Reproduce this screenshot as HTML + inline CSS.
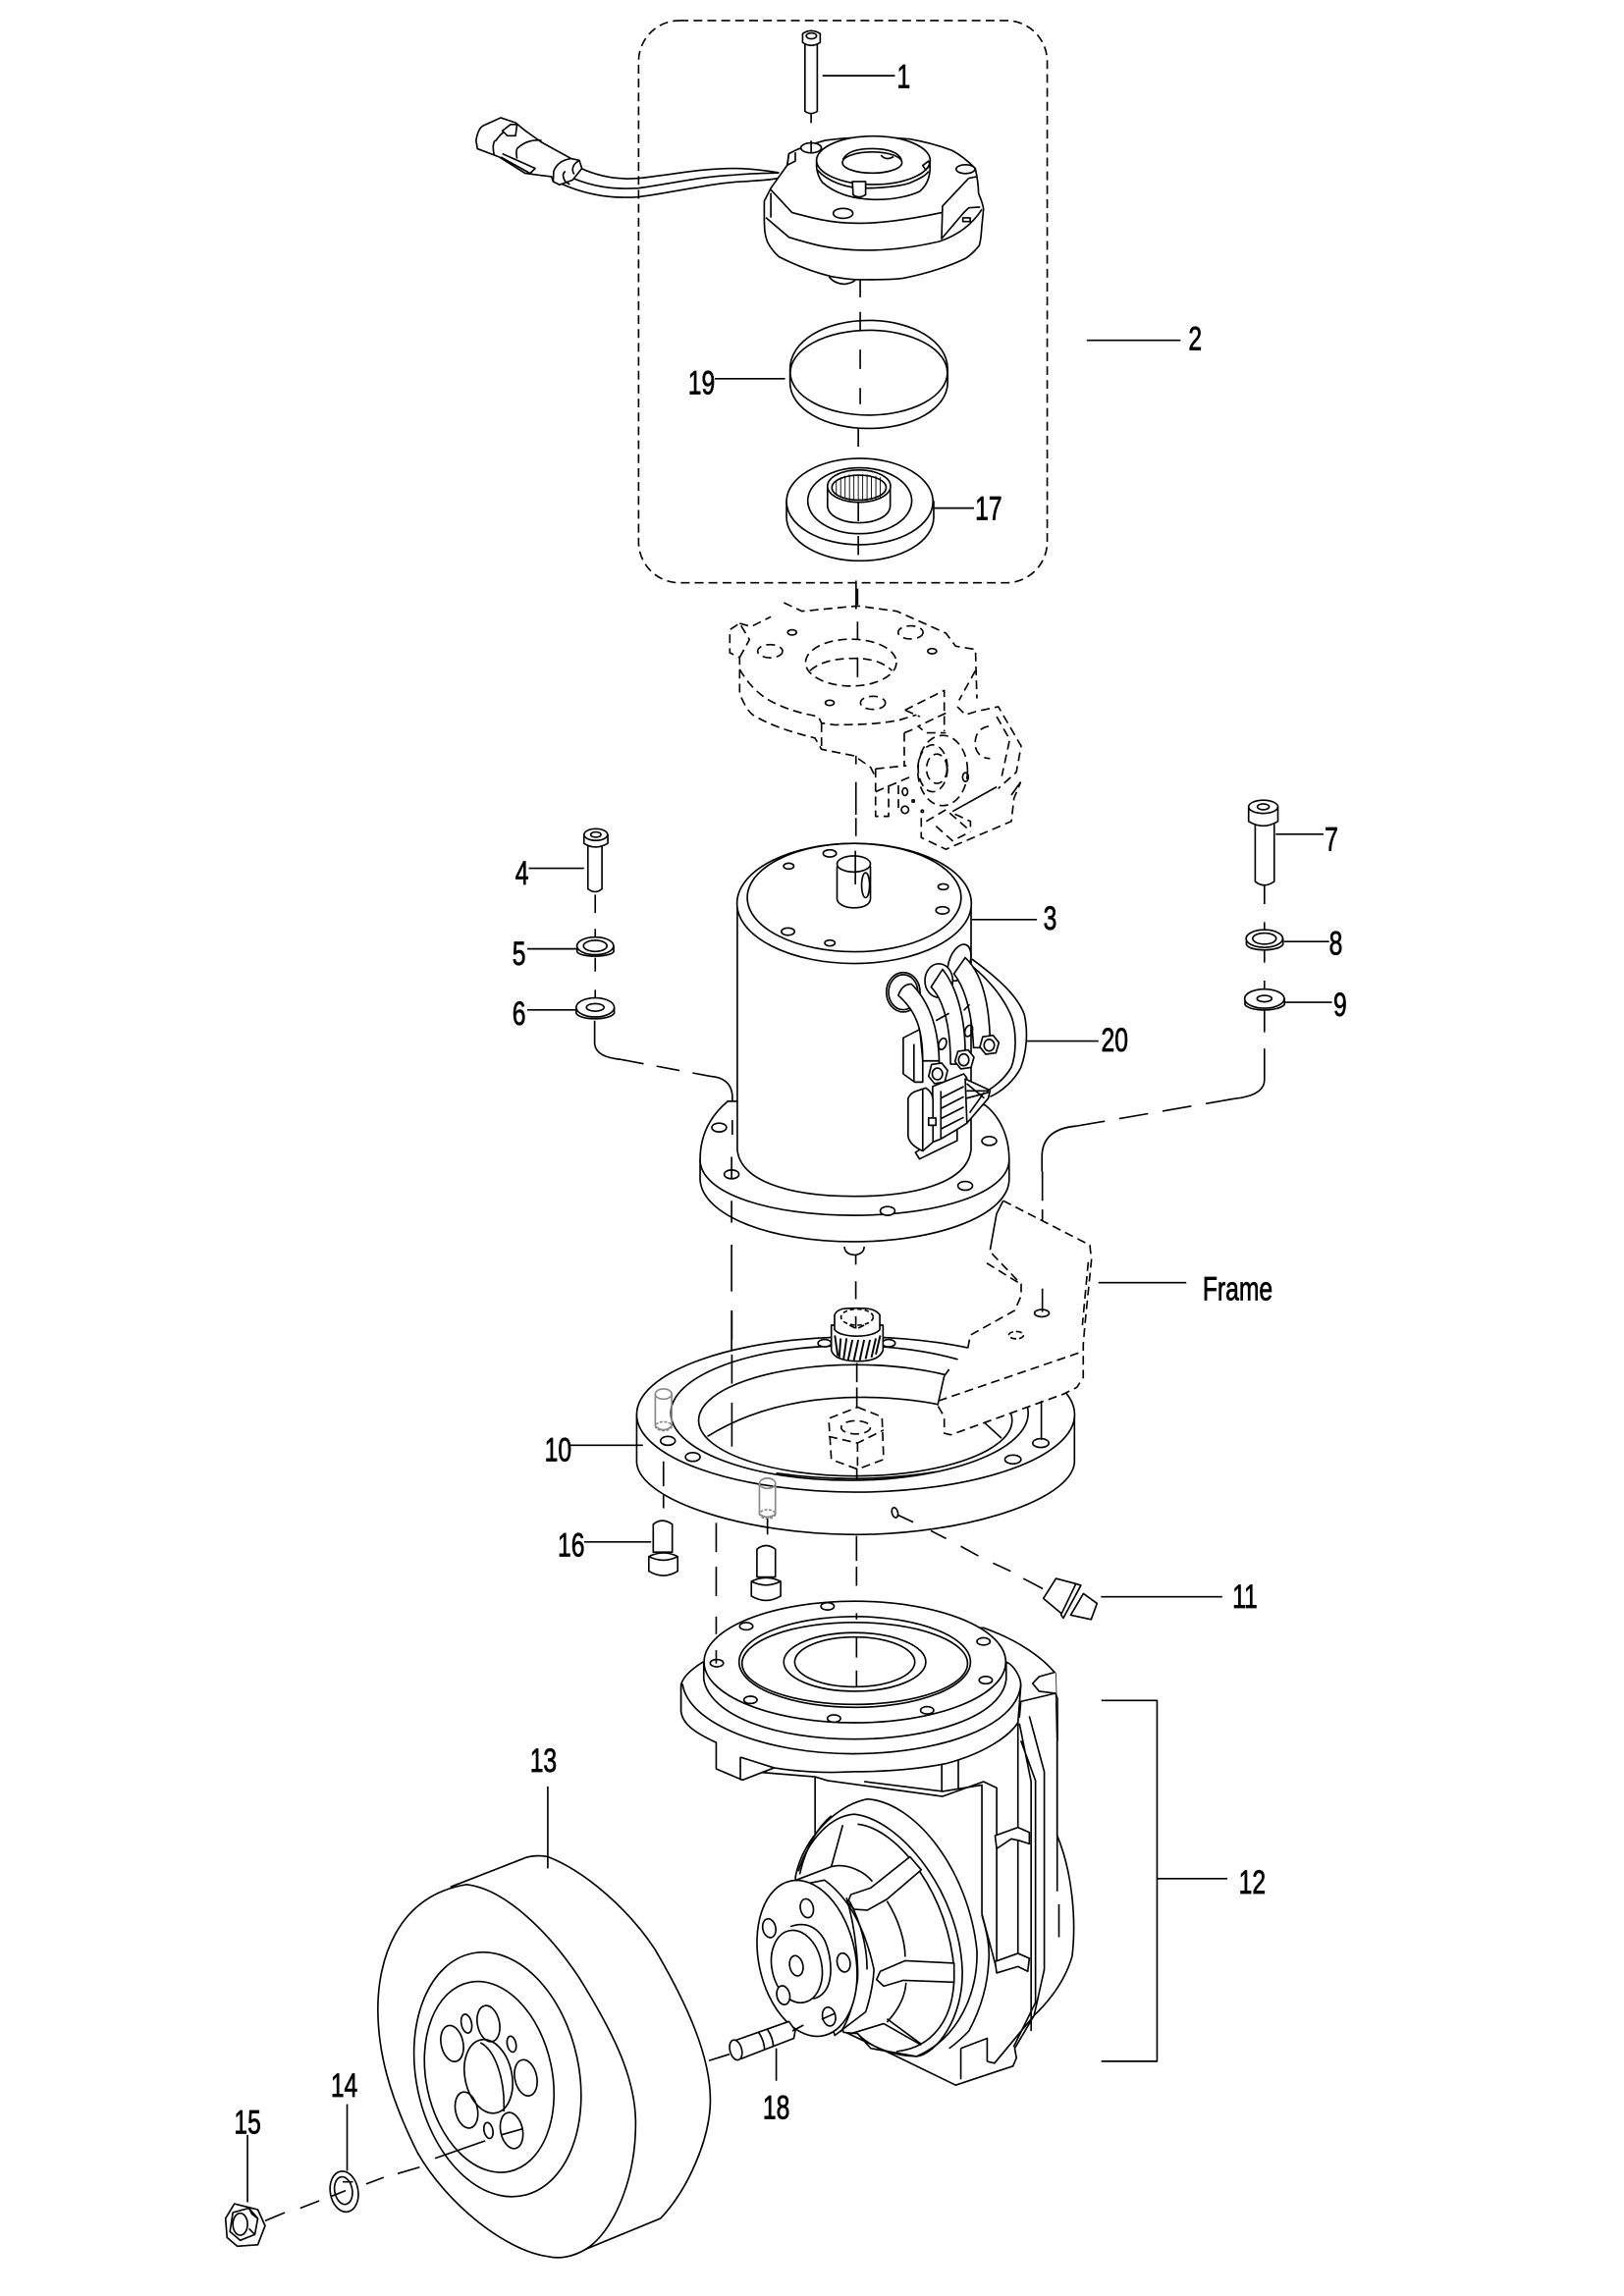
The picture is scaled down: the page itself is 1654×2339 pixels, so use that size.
<!DOCTYPE html>
<html lang="en">
<head>
<meta charset="utf-8">
<title>Drive unit exploded view</title>
<style>
html,body{margin:0;padding:0;background:#fff}
svg{display:block}
.a *,.a{fill:none;stroke:#000;stroke-width:1.1;stroke-linejoin:round;stroke-linecap:butt}
.w{fill:#fff!important}
.d{stroke-dasharray:6 3.5}
.c{stroke-dasharray:16 9}
.g{stroke:#888!important}
.t{font-family:"Liberation Sans",sans-serif;font-size:23px;fill:#000;stroke:#000;stroke-width:.5;text-anchor:middle}
</style>
</head>
<body>
<svg width="1654" height="2339" viewBox="0 0 1108.8 1568" xmlns="http://www.w3.org/2000/svg">
<rect width="1108.8" height="1568" fill="#fff"/>
<g class="a">

<!-- dashed box -->
<rect x="436" y="14" width="279" height="384" rx="28" stroke-dasharray="6 3.5"/>

<!-- part 1 bolt -->
<path d="M549.6,29V76Q553.7,79 558,76V29"/>
<path class="w" d="M548,23Q553.7,19 560,23V29Q553.7,33 548,29Z"/>
<ellipse cx="554" cy="24.5" rx="3.5" ry="2"/>
<path d="M553.8,78V84"/>

<!-- wires -->
<path d="M396.7,115C409,120.6 422.4,122.9 435.8,121.7C458,119.5 478.2,115 500.6,115C516.2,115 531.9,118 531.9,118"/>
<path d="M391,121.7C404.5,127.3 417.9,129.6 435.8,128.5C458,125.5 478.2,120.6 500.6,119.5C511.8,118.4 522.9,118.4 531.9,118"/>
<path d="M383.3,125.5C400,133 417.9,135.8 435.8,134.5C460.4,131.4 485,125 507.3,124C516,123.3 527.4,122.9 530.7,121.7"/>
<!-- plug -->
<path class="w" d="M325,96C326,90 328,87 329.6,86L341.9,80.4L352,83.8L358.7,89.3L369.8,97.2L390,108.3L395.5,109.5L397.3,115L391,122.9L382,126.2L377.7,124L376.5,120.6L367.6,119.5L358.7,118.4L340.8,107.2L326,101.6Z"/>
<path d="M337.4,106C336,100 337,96 338.6,96C342,91 345,89 349,87M353,108.3C352,103 353,101 354.2,100.5C358,97 364,95 369.8,96"/>
<path class="w" d="M343,89.3L348.6,85H353L352,92.7H346.4Z"/>
<path d="M341.9,107.2L362,118.4L365.4,115L343,105"/>
<path d="M390,108.3C384,109 380,112 378,117L377.7,124M386,117Q383,119 386,124L389,126"/>
<path d="M395,110C391,112 390,116 392,119"/>

<!-- brake body -->
<path class="w" d="M537.5,112.8L526.3,128.5L521.8,137.4V150C522,157 522,160 524,165.3C526,169 528,172 531.9,175.4C545,182 556,186 567.6,188.8C575,190 580,191 587.7,191C600,191 608,191 616.7,190C632,187 648,182 659.2,176.5C663,174 666,171 668.6,167.6C670,163 670,158 670.4,154L671.5,143C671,138 669,135 668.1,131.8C668,125 667,120 665.9,115C661,110 656,106 650.2,102.8C640,99 630,96.5 621.2,95C607,93.5 590,93.5 578.7,94.3C573,94.8 568,95.2 563,96C556,98 549,100 543,102.7L538.6,105Z"/>
<path d="M526.3,129.6L540.8,145.2C555,149 568,152.4 583.3,152.4C603,153 625,149 642.9,145.2"/>
<path d="M526.3,131.8V148.6"/>
<path d="M522.9,148.6L538.6,162C555,167 568,170.9 592,170.9C610,170.9 628,168 641.3,164.9C650,162 662,156 670.4,143"/>
<path d="M661.4,121.7L643.5,140.7L642.9,163L658,145.2L661.4,141.9L669.2,141.4M661.4,121.7L667,120.6"/>
<rect x="657.4" y="148.8" width="5" height="2.5"/>
<path d="M538.6,105L537.5,112.8L543,110L543,104"/>
<path class="w" d="M557.5,109.5V114Q558,120 561.6,124.7C570,132 582,136.3 598.8,136.3C610,136.3 621,134 627.9,130.7Q635,125 635,114V109.5"/>
<path d="M558,116C565,124 578,128.5 590,128.5C603,128.5 615,127 621,125C628,122 632,120 634,117"/>
<ellipse class="w" cx="596.3" cy="109.5" rx="38.8" ry="16.5"/>
<ellipse cx="595.5" cy="111" rx="20.3" ry="7.2"/>
<path d="M575.5,109C578,103.5 586,101.5 595.5,101.5C605,101.5 613,103.5 615.5,109"/>
<path d="M601.5,106Q605,110 610,107"/>
<path class="w" d="M582,124H591V133Q586,136 582.5,133Z"/>
<path d="M630,113L634,110L635,113L632,116Z"/>
<ellipse class="w" cx="659.2" cy="115.5" rx="6.4" ry="3"/>
<ellipse class="w" cx="575.6" cy="145.7" rx="6.7" ry="3.4"/>
<ellipse class="w" cx="553.8" cy="101" rx="7" ry="3.4"/>
<path d="M553.8,96V104M566,189Q570,194 577,194Q583,193 584,191"/>

<!-- ring 19 -->
<path class="w" d="M539.4,252C539.4,233 563,218.8 593.2,218.8C623,218.8 647,233 647,252V261.3C647,279 623,292.6 593.2,292.6C563,292.6 539.4,279 539.4,261.3Z"/>
<ellipse cx="593.2" cy="254.5" rx="53.6" ry="29"/>
<path d="M587.3,191V203M587.3,213V226M587.3,238.7V252M587.3,265V276M586,292V305"/>

<!-- disc 17 -->
<path class="w" d="M537,342V353C537,370 560,383 587,383C615,383 637.5,370 637.5,353V342"/>
<ellipse class="w" cx="587" cy="342.5" rx="50" ry="29.5"/>
<ellipse cx="587" cy="342" rx="35.5" ry="22.5"/>
<path class="w" d="M565,332V346C566,353 576,357 586.5,357C597,357 607,353 607.8,346V332Z"/>
<ellipse class="w" cx="586.5" cy="332" rx="21.5" ry="11"/>
<ellipse cx="586.5" cy="333" rx="18.5" ry="8.5"/>
<path style="stroke-width:.6" d="M571,328V338M574,326V340M577,325V341M580,324V342M583,324V342M586,324V342M589,324V342M592,324V342M595,325V341M598,325V341M601,326V340"/>
<path d="M586,343V356M586,366V379M584.5,396.5V416"/>

<!-- pump / steering dashed part -->
<g class="d">
<path d="M505,449L511.7,436.8L505,425.7L498.3,430V445.8L505,449V473.7C508,481 511,486 514,488.2C525,495 540,500 556.4,504L560.9,511.7L583.3,516.2L594.4,524L597.8,530.7"/>
<path d="M505,425.7L512.9,427.9L526.3,421.2M535.2,411.6L547.5,417.4L585.5,413.8L612.3,417.4L645.8,432.4L652.5,441.3L666,443.5L667,477"/>
<path d="M505,457C510,466 516,472 523,477C535,484 546,487 558.7,489.3L560.9,493.8L569.8,495C590,495 603,494 614.5,491.6L625.7,488.2"/>
<path d="M560.9,494V511"/>
<ellipse cx="581" cy="452.5" rx="31" ry="16"/>
<path d="M553,458C560,452 570,449.6 583,449.6C594,449.6 603,452 609,458"/>
<ellipse cx="621.7" cy="431.9" rx="8.5" ry="4.5"/>
<ellipse cx="525.8" cy="444.7" rx="8.5" ry="4.5"/>
<ellipse cx="596" cy="480" rx="8.5" ry="4.5"/>
<path d="M617.9,484.9L644.7,471.5V499.4M645.8,487L626.8,496L632.4,500.5H645.8M617.9,484.9L628,489.4M617.4,500.5V522.9M617.4,500.5L626,497"/>
<path d="M666,458L654.8,478.2M653.6,482.6L659.2,488.2L666,486L681.6,482.6L697.2,509.5L693.9,527.3L681.6,538.5M680.5,489.4L689.4,505L684,530"/>
<path d="M675,496C668,497 665,503 666,510C667,515 671,518 676,518"/>
<ellipse cx="643.6" cy="526.2" rx="17" ry="24"/>
<ellipse cx="636.9" cy="524.7" rx="10" ry="16"/>
<ellipse cx="639.6" cy="525" rx="7" ry="10"/>
<path d="M629,558.6V572L645.8,580L690.5,560.9L692.3,545.2L696.9,534"/>
<path d="M632.4,560.9L645.8,553L662.6,567.6M652,556L662.6,560.9V567.6M639.1,564.2L650.3,574.2L662.6,568"/>
<path d="M597.8,525L619,522.9M597.8,525V557.5H606.7V536.3M597.8,540.7L621.2,530.7M613.4,536.3V554.2"/>
</g>
<ellipse cx="540.8" cy="431.9" rx="3" ry="1.8"/>
<ellipse cx="636.4" cy="444.7" rx="3" ry="1.8"/>
<ellipse cx="566.5" cy="480" rx="3" ry="1.8"/>
<ellipse cx="617.9" cy="540.7" rx="1.8" ry="2.6"/>
<ellipse cx="617.9" cy="553" rx="2.5" ry="2.5"/>
<ellipse cx="659.2" cy="530.7" rx="2" ry="3"/>
<circle cx="623.5" cy="547" r=".8"/>
<circle cx="629.7" cy="554" r=".8"/>
<path d="M680.5,537.4L650.3,554.2M690.5,543L696.9,534"/>
<path d="M585.5,402V413M585.5,424.5V437M585.5,449V462.5M584.4,516V522M584.4,534V556.4M584.4,558.6V571"/>

<!-- bolts 4,5,6 -->
<path d="M401.4,577V607Q406.4,611 411,607V577"/>
<path class="w" d="M398.7,570V576Q406.4,581 415,576V570Z"/>
<ellipse class="w" cx="406.8" cy="570" rx="8" ry="4"/>
<ellipse cx="406.8" cy="570" rx="3.5" ry="1.8"/>
<path d="M406.4,611V623.5M406.4,634.3V640.5M406.4,654V663.5M406.4,676V683.5"/>
<path class="w" d="M394,646V650C396,654 416,654 419,650V646Z"/>
<ellipse class="w" cx="406.4" cy="646" rx="12.5" ry="6"/>
<ellipse cx="406.4" cy="646" rx="8" ry="3.8"/>
<path class="w" d="M393.4,688V692C396,697 416,697 419.4,692V688Z"/>
<ellipse class="w" cx="406.4" cy="688" rx="13" ry="6.5"/>
<ellipse cx="406.4" cy="688" rx="6" ry="2.6"/>
<path d="M406,697V713Q407,722 423.7,723.5" />
<path style="stroke-dasharray:16 9" d="M423.7,723.5L485,735"/>
<path d="M485,735Q499,736 500,748V765"/>

<!-- bolts 7,8,9 -->
<path d="M857,561V602Q863,607 870,602V561"/>
<path class="w" d="M852.5,551V561Q862.5,567 872.5,561V551Z"/>
<ellipse class="w" cx="862.5" cy="551" rx="10" ry="4.5"/>
<ellipse cx="862.5" cy="551" rx="4" ry="2"/>
<path d="M863.3,605V617.4M863.3,629.7V636M863.3,648V657.4M863.3,669.7V677.4M863.3,690V705"/>
<path class="w" d="M851,641V645C853,650 873,650 876,645V641Z"/>
<ellipse class="w" cx="863.3" cy="641" rx="12.5" ry="6"/>
<ellipse cx="863.3" cy="641" rx="8" ry="3.8"/>
<path class="w" d="M850,682V686C853,691 873,691 877,686V682Z"/>
<ellipse class="w" cx="863.3" cy="682" rx="13.5" ry="6.5"/>
<ellipse cx="863.3" cy="682" rx="5" ry="2.2"/>
<path d="M863.3,716V737.4Q863.3,748 843,750.3"/>
<path style="stroke-dasharray:20 10" d="M843,750.3L735,769"/>
<path d="M735,769Q711.4,771 711.4,790V800"/>
<path style="stroke-dasharray:20 6" d="M711.7,800V895"/>

<!-- motor flange -->
<path class="w" d="M478,792V806C480,830 525,848 583,848C640,848 688,830 689,806V792C689,775 682,762 672.5,754.6L497,752C485,762 478,775 478,792Z"/>
<path d="M478,792C478,815 525,830 583,830C640,830 689,815 689,792"/>
<path class="w" d="M503.4,617V785C505,805 535,817 583,817C632,817 661,805 663,785V617Z"/>
<ellipse class="w" cx="583.2" cy="617" rx="80" ry="41"/>
<ellipse cx="583.2" cy="613" rx="73" ry="37"/>
<ellipse class="w" cx="491" cy="770" rx="5" ry="3"/>
<ellipse class="w" cx="499.5" cy="802" rx="5" ry="3"/>
<ellipse class="w" cx="606" cy="827" rx="5" ry="3"/>
<ellipse class="w" cx="659" cy="809.8" rx="5" ry="3"/>
<ellipse class="w" cx="675.4" cy="779.2" rx="5" ry="3"/>
<path d="M500,765V775M499.5,790V805M499.5,820V835M499.5,850V882M499.5,895V930"/>
<path d="M576.5,851.4Q577,857 584.3,857Q590,856 590,851.4"/>

<!-- top face detail -->
<path class="w" d="M571.5,592V614C572,618 578,620 583,620C589,620 594,618 594.3,614V592Z"/>
<ellipse class="w" cx="582.9" cy="590" rx="11.4" ry="5.5"/>
<ellipse cx="591" cy="604.5" rx="2.7" ry="8.5"/>
<ellipse cx="566.5" cy="582.8" rx="4.5" ry="2.5"/>
<ellipse cx="538.5" cy="591.5" rx="3.5" ry="2"/>
<ellipse cx="538" cy="636.2" rx="4.5" ry="2.5"/>
<ellipse cx="566.6" cy="644" rx="3.5" ry="2"/>
<ellipse cx="643.5" cy="621.7" rx="4.5" ry="2.5"/>
<ellipse cx="644" cy="605.6" rx="3.5" ry="2"/>
<path d="M584,581V604"/>

<!-- cables on motor -->
<path d="M663.6,655C680,667 695,680 699.4,693C702,705 701,718 697,729C693,737 685,745 676,749"/>
<path d="M663.6,659.7C675,669 686,682 691,695.4C694,705 694,720 690.4,729C687,735 682,740 674.8,744.6"/>
<path class="w" d="M616.7,708.8L628,703L630,724V739L624.5,739L616.7,733.4Z"/>
<path d="M624,713V739"/>
<ellipse class="w" cx="655" cy="657.4" rx="7" ry="13" transform="rotate(20 655 657.4)"/>
<ellipse class="w" cx="641" cy="669.7" rx="9.5" ry="11.5"/>
<ellipse class="w" cx="616.7" cy="677.6" rx="11.5" ry="13.5"/>
<ellipse cx="616.7" cy="677.6" rx="10" ry="12"/>
<path class="w" d="M651.3,665C659,675 663.6,691 664.7,715.5H676C676,690 672,666 659,654Z"/>
<path class="w" d="M635.7,674C645,684 649,702 649,726.7H659V719C659,693 652.4,673 643.5,662Z"/>
<path class="w" d="M613.3,679.8C625,690 630,702 630,724.5H641.3V726.7C641,702 634.5,684 622.3,672Q616,672 613.3,679.8Z"/>
<path d="M639,697L648,692M658,690L662,686"/>
<ellipse cx="643.5" cy="712.9" rx="2.5" ry="4" transform="rotate(20 643.5 712.9)"/>
<ellipse cx="661.4" cy="704" rx="2.5" ry="4" transform="rotate(20 661.4 704)"/>
<polygon class="w" points="671,708 678,707 682,712 680,719 673,720 669,715"/>
<polygon class="w" points="654,718 661,717 665,722 663,729 656,730 652,725"/>
<polygon class="w" points="636,727 643,726 647,731 645,739 638,740 634,735"/>
<ellipse cx="675.4" cy="713.8" rx="3.5" ry="4"/>
<ellipse cx="658" cy="723.8" rx="3.5" ry="4"/>
<ellipse cx="640" cy="733.4" rx="3.5" ry="4"/>
<!-- connector -->
<path class="w" d="M625,787L627.8,791.5L653.5,779V771.4L640,778Z"/>
<path class="w" d="M636.8,742L658,733.4L660,736L660.2,767L654,771L642,778L636.8,780Z"/>
<path d="M642.4,745V778M642.4,750L658,742M642.4,757L658,749M642.4,764L658,756M642.4,771L658,763"/>
<path class="w" d="M620,750Q622,746 626,745L632,743Q637,746 637,752V780L630,786Q621,782 620,776Z"/>
<path d="M630,744V786"/>
<rect class="w" x="634" y="763.5" width="5" height="5"/>
<path class="w" d="M659,736.8L676,744.6L674.8,750L660.2,767Z"/>
<path d="M660,745L675,745M660,750L675,746M662,760L672,746M660,740L672,750"/>

<path d="M584.3,857V863.7M584.3,875V887.2"/>

<!-- ring 10 -->
<path class="w" d="M434.7,966V999C437,1025 510,1048 584,1048C658,1048 731,1025 733.6,999V966Z"/>
<ellipse class="w" cx="584.2" cy="966" rx="149.5" ry="53"/>
<ellipse cx="580" cy="965" rx="122" ry="46"/>
<ellipse cx="584" cy="970" rx="107" ry="38"/>
<path d="M483,981C510,964 545,954 590,954.2C607,954.5 625,956 640.2,959.1"/>
<path d="M530,1006Q585,1014 640,1005"/>
<path d="M499.7,895V915M499.7,925V945M499.7,958V988"/>
<ellipse class="w" cx="456" cy="984" rx="5" ry="3"/>
<ellipse class="w" cx="473" cy="995" rx="5" ry="3"/>
<ellipse class="w" cx="710.6" cy="985.5" rx="5.5" ry="3"/>
<ellipse class="w" cx="691.6" cy="996.7" rx="5.5" ry="3"/>
<ellipse class="w" cx="563" cy="917.3" rx="4.5" ry="2.5"/>
<ellipse class="w" cx="606.7" cy="917.3" rx="4.5" ry="2.5"/>
<path d="M671.5,971L683.8,982.2"/>

<!-- frame -->
<path class="w" style="stroke:none" d="M684.9,820L744.1,850.3L745.2,860.4L739.6,918.5V940.8L735.2,947.5L726.2,952L649.1,979.9L644.7,978.8V967.6L640.2,959.8L644.7,939.7L648,935.2L660.8,920.7L662.5,911.8L692.7,895L697.2,885V877L676,853.6L680.4,829Z"/>
<path class="d" d="M684.9,820L744.1,850.3L745.2,860.4L740.7,905L739.6,918.5V940.8L735.2,947.5L726.2,952L649.1,979.9L644.7,978.8V967.6L640.2,959.8M644.7,939.7L648,935.2M660.8,920.7L662.5,911.8L692.7,895L697.2,885V877L676,854.8"/>
<path d="M684.9,820L680.4,829L676,853.6M640.2,959.8L644.7,939.7"/>
<path class="d" d="M743,862L739,905M673.7,862.6L697,877"/>
<path class="d" d="M736.3,924L641.3,956.5"/>
<ellipse cx="711.3" cy="896.8" rx="5" ry="2.5"/>
<ellipse cx="693.8" cy="911.8" rx="5" ry="2.5" stroke-dasharray="4 2"/>
<path d="M711,956.5V983.3"/>
<path d="M711.7,880V896"/>

<!-- gear -->
<path class="w" d="M567.6,905V922C569,928 578,929.6 586,929.6C594,929.6 601,928 602.9,922V905Z"/>
<path style="stroke-width:1.3" d="M570,912L572,926M574,914L573,927M578,914L576,928M582,915L579,929M586,915L583,929M590,915L587,929M594,915L591,928M598,914L595,927M601,912L598,925"/>
<path class="w" d="M569.8,898V908C574,914 596,914 600.7,908V898C597,893 590,893.4 585,893.4C578,893.4 572,893 569.8,898Z"/>
<ellipse cx="585.2" cy="899.5" rx="11" ry="5.5" stroke-dasharray="3 2"/>
<path d="M584.3,899V907.3M580,905L584,907M590,905L586,907"/>

<!-- hex dashed -->
<g class="d">
<path d="M585.5,961L602.2,967.6L603.3,996.7L585.5,1003.4L567.6,996.7L565.8,968.7Z"/>
<path d="M565.8,981L585.5,985.5L603.3,976.6M585.5,985.5V1003.4"/>
<ellipse cx="584.3" cy="974.8" rx="10" ry="4.5"/>
</g>
<path d="M585,930.8V944M585,947.5V961M585,1003V1011"/>

<!-- pins -->
<path class="g" d="M447.4,952V974Q453,979 458.6,974V952"/>
<ellipse class="g" cx="453" cy="952" rx="5.6" ry="3.5"/>
<ellipse class="g" cx="453" cy="974" rx="5.6" ry="3" stroke-dasharray="2 1"/>
<path class="g" d="M518.5,1013V1034Q524,1038 529.4,1034V1013"/>
<ellipse class="g" cx="524" cy="1013" rx="5.4" ry="3.5"/>
<ellipse class="g" cx="524" cy="1034" rx="5.4" ry="3" stroke-dasharray="2 1"/>
<path d="M453,998V1015M453,1021V1030M524,1037V1048"/>

<!-- bolts 16 -->
<path class="w" d="M446,1041V1060H459V1041Q452,1036 446,1041Z"/>
<path class="w" d="M443,1063V1073Q453,1079 462.7,1073V1063Q453,1058 443,1063Z"/>
<path d="M443,1063Q453,1068 462.7,1063"/>
<path class="w" d="M516.8,1058V1077H529.4V1058Q523,1053 516.8,1058Z"/>
<path class="w" d="M513,1080V1090Q523,1096 533,1090V1080Q523,1075 513,1080Z"/>
<path d="M513,1080Q523,1085 533,1080"/>

<!-- fitting 11 -->
<ellipse cx="611" cy="1033" rx="2" ry="3.5" transform="rotate(-15 611 1033)"/>
<path d="M613,1034.6L623.5,1039.5M635.5,1045.4L646,1050.7M656,1056L668,1062.6M678,1067.5L690,1073M698.7,1078L712,1085"/>
<path class="w" d="M739.7,1088.3L749,1095L745,1106L731,1103Z"/>
<path class="w" d="M721,1078L712.4,1091.6L726,1103L734.6,1081.6Z"/>
<path class="w" d="M734.6,1081.6L738,1082.7L726,1105L724.4,1102.8Z"/>

<!-- axis below ring -->
<path d="M584.8,1049V1066M584.8,1070V1083"/>
<path style="stroke-dasharray:20 10" d="M489,1040V1100"/>

<!-- housing: back -->
<path class="w" d="M671.5,1111.7C695,1120 712,1132 720.7,1143L721.8,1188.8V1253.6C732,1278 735,1311 732,1336C728,1350 720,1363 706,1376.5L692.8,1398.9L694,1405.5L691.6,1411L652.5,1424L612.3,1404.4L576.6,1387.6L556.5,1251.4V1213.4L490,1208V1190L465,1168.7V1150L520,1110Z"/>
<!-- side rails -->
<path d="M695,1174V1334M696,1177L704,1216.7V1387M702.8,1172L713,1210V1345L706,1376.5L679,1409L674,1407.8M697,1188.8L707,1216V1367.6L692,1398"/>
<path d="M721.8,1188.8V1291.6M723,1300.5V1323"/>
<path class="w" d="M720.7,1141.9L709.5,1145L705,1149.7L709.5,1155L720.7,1156.4L722,1160L722,1189"/>
<path d="M720.7,1156.4L697,1162L696,1173"/>
<path d="M556.5,1213.4L565,1216L643.6,1226.8L671.5,1216.7L680.5,1221V1345"/>
<path d="M590,1216.7L643.6,1223.4L670.4,1219V1307L680.5,1345"/>
<path d="M643,1204.4V1223.4M654.3,1200V1221.9"/>
<path class="w" d="M679.4,1253.6L695,1248L702.8,1251.4V1259.2L696,1257L690.5,1255.8L680.5,1262.5Z"/>
<path class="w" d="M679.4,1339.6L695,1334L702.8,1337.4L701.7,1346.3L695,1343L680.5,1347.4Z"/>
<path d="M656,1398.9V1420M656,1398.9L674,1392V1407.8"/>

<!-- housing flange -->
<path class="w" d="M480,1135C472,1140 465,1146 465,1152V1168.7C466,1178 476,1184 489,1190V1208L507,1215.6L528.5,1207.3C545,1210 565,1211 581,1210C605,1210 628,1208 646,1204.4C670,1198 688,1187 695,1176.5L697,1151C697,1145 692,1137 687,1135Z"/>
<path d="M505.5,1200V1215.6M505.5,1200L528.5,1207.3"/>
<path d="M466,1150C470,1178 525,1197.7 582,1197.7C640,1197.7 695,1180 697,1150"/>
<path class="w" d="M480.5,1135V1147C485,1172 530,1187.7 583,1187.7C637,1187.7 684,1172 687,1147V1135Z"/>
<ellipse class="w" cx="583.7" cy="1135" rx="103" ry="41.5"/>
<ellipse cx="583.6" cy="1135" rx="79" ry="31"/>
<ellipse cx="583.6" cy="1136" rx="77" ry="28"/>
<ellipse cx="583.6" cy="1135" rx="48.5" ry="20"/>
<ellipse cx="583.6" cy="1135" rx="41" ry="17"/>
<ellipse class="w" cx="509.5" cy="1110.6" rx="4.5" ry="2.5"/>
<ellipse class="w" cx="489.4" cy="1135.8" rx="4.5" ry="2.5"/>
<ellipse class="w" cx="512.4" cy="1160.9" rx="4.5" ry="2.5"/>
<ellipse class="w" cx="569.4" cy="1173.6" rx="4.5" ry="2.5"/>
<ellipse class="w" cx="633" cy="1168" rx="4.5" ry="2.5"/>
<ellipse class="w" cx="673" cy="1147.4" rx="4.5" ry="2.5"/>
<ellipse class="w" cx="671.5" cy="1121" rx="4.5" ry="2.5"/>
<ellipse class="w" cx="565" cy="1097" rx="4.5" ry="2.5"/>
<path d="M489,1104V1116M489,1127V1136M584.8,1101.7V1106M584.8,1118.4V1132M584.8,1140.8V1152"/>

<!-- wheel housing rim -->
<path class="w" d="M543,1282.6C546.4,1260 567.6,1233.5 592.2,1228.6C625.7,1231 661.5,1278 667,1332C668,1360 655,1392 625.7,1404.4C610,1404 594,1398 585.5,1388.8L576,1388Z"/>
<path d="M670.4,1308C674,1320 676,1330 675,1340C674,1360 668,1375 661.5,1387C656,1393 652,1396 648,1399"/>
<path d="M545,1278C552,1255.8 567.6,1240 583.3,1239C614.5,1242.4 654.8,1291.6 657,1345C658,1378.7 639,1403 625.7,1404.4"/>
<path d="M567.6,1240C558,1248 550,1262 546,1280"/>
<path d="M585.5,1245.8C614.5,1249 648,1296 651.4,1345C652.6,1381 634.7,1398.8 612,1401"/>
<path d="M575.4,1246.4L567.6,1274.8L544,1283.8M567.6,1274.8C578,1272 590,1278 595.6,1284.9"/>
<path class="w" d="M621.3,1268L594.5,1289.3L581,1293.8L578.8,1299.4L583.3,1303.9L592.2,1304.5L605.6,1297L629,1277Z"/>
<path d="M605.6,1298.3C613,1310 618,1325 618,1336.3M618.6,1354C618,1365 612,1374 605.6,1381"/>
<path class="w" d="M651.4,1340.7L618,1339L601,1346.3L598.5,1351.9L603.4,1356.4L616.8,1352.4L651.4,1353.7Z"/>
<path d="M581,1388.8L603.4,1382L629,1396.6M605.6,1378.7L629,1396"/>
<path d="M585.5,1388.8L594.5,1398.9L625.7,1404.4"/>

<!-- hub -->
<path class="w" d="M536.3,1289.3L563,1284C578,1295 590,1314 596.7,1345C596,1360 591,1374 591,1374L570,1390Z"/>
<path d="M580,1298.3C588,1314 592,1330 592,1345M578,1296C585,1320 586,1345 585.5,1352C583,1370 578,1382 574,1387.7"/>
<ellipse class="w" cx="551" cy="1337.4" rx="33" ry="54" transform="rotate(-12 551 1337.4)"/>
<path d="M539.7,1315.7C550,1312 558,1316 563,1325C567,1334 568,1345 566.5,1352C565,1360 560,1364 555.3,1365"/>
<ellipse class="w" cx="544" cy="1343" rx="17" ry="25" transform="rotate(-12 544 1343)"/>
<ellipse cx="543.7" cy="1342.5" rx="4.5" ry="7" transform="rotate(-12 543.7 1342.5)"/>
<ellipse class="w" cx="550.9" cy="1303.2" rx="4.4" ry="6.5" transform="rotate(-12 550.9 1303.2)"/>
<ellipse class="w" cx="525.2" cy="1316.8" rx="4.4" ry="6.5" transform="rotate(-12 525.2 1316.8)"/>
<ellipse class="w" cx="576" cy="1340.3" rx="4.4" ry="6.5" transform="rotate(-12 576 1340.3)"/>
<ellipse class="w" cx="534.8" cy="1362.6" rx="4.4" ry="6.5" transform="rotate(-12 534.8 1362.6)"/>
<ellipse class="w" cx="566" cy="1377.2" rx="4.4" ry="6.5" transform="rotate(-12 566 1377.2)"/>
<path d="M561,1379L570,1375"/>

<!-- stud 18 -->
<path class="w" d="M499.5,1394.4L538.6,1380.5L543,1386.6L542,1392L506,1406Z"/>
<ellipse class="w" cx="502.4" cy="1400" rx="4" ry="7" transform="rotate(-15 502.4 1400)"/>
<path d="M518,1388Q522,1394 522,1400M524,1386Q528,1392 528,1398"/>
<path d="M484,1407.3L498,1402.9M541,1387L548.6,1383"/>

<!-- wheel -->
<path class="w" d="M308,1288.5L357,1269.4C362,1267 370,1267 374,1268C400,1278 430,1305 447,1331C470,1370 485,1405 485,1434C485,1460 470,1495 451,1515L400,1536L374,1541L300,1400Z"/>
<path class="w" d="M318.5,1287C345,1290 375,1320 395,1350C420,1390 434,1420 434,1450C434,1490 418,1525 400,1536C392,1541 382,1543 374,1541C345,1537 305,1505 285,1470C265,1430 258,1400 258,1372C258,1340 270,1295 318.5,1287Z"/>
<ellipse cx="339.7" cy="1416.7" rx="55.5" ry="84.5" transform="rotate(-12 339.7 1416.7)"/>
<ellipse cx="334" cy="1418.4" rx="43" ry="66" transform="rotate(-12 334 1418.4)"/>
<ellipse cx="333.5" cy="1418" rx="16" ry="25.5" transform="rotate(-12 333.5 1418)"/>
<path d="M328,1395C338,1400 345,1420 344,1442"/>
<ellipse cx="333.5" cy="1382" rx="7.5" ry="12.5" transform="rotate(-12 333.5 1382)"/>
<ellipse cx="308.7" cy="1395.6" rx="7.5" ry="12.5" transform="rotate(-12 308.7 1395.6)"/>
<ellipse cx="359" cy="1419" rx="7.5" ry="12.5" transform="rotate(-12 359 1419)"/>
<ellipse cx="318.5" cy="1441" rx="7.5" ry="12.5" transform="rotate(-12 318.5 1441)"/>
<ellipse cx="349.3" cy="1455" rx="7.5" ry="12.5" transform="rotate(-12 349.3 1455)"/>
<ellipse cx="318.5" cy="1382" rx="3.5" ry="6.5" transform="rotate(-12 318.5 1382)"/>
<ellipse cx="349.3" cy="1396" rx="3" ry="5.5" transform="rotate(-12 349.3 1396)"/>
<ellipse cx="333.5" cy="1455" rx="3" ry="5.5" transform="rotate(-12 333.5 1455)"/>
<path d="M357,1453.8L342,1458M331.3,1462L297,1474M286.5,1480L271.5,1484.4M262,1487L250,1491.5M218,1503L205,1508M194.5,1511L181,1516.6"/>

<!-- washer 14 -->
<ellipse class="w" cx="235" cy="1496.7" rx="9.5" ry="14" transform="rotate(-10 235 1496.7)"/>
<ellipse cx="234.5" cy="1496" rx="6" ry="9.5" transform="rotate(-10 234.5 1496)"/>
<path d="M234,1490H241M226,1500L236,1496"/>

<!-- nut 15 -->
<path class="w" d="M160,1505L176,1509L181,1520L176,1533L162,1534L155,1528L154,1515Z"/>
<polygon class="w" points="159,1511 170,1508 176,1515 174,1526 164,1530 157,1524"/>
<ellipse cx="164" cy="1519" rx="5" ry="7.5"/>
<path d="M170,1508L172,1512L176,1515M174,1526L170,1522"/>

<!-- leaders -->
<path d="M561.6,51.7H611"/>
<path d="M742,232.4H806"/>
<path d="M488,258.6H536"/>
<path d="M637.5,347H665"/>
<path d="M663.6,628H708"/>
<path d="M701,711H750"/>
<path d="M361,593H398.7"/>
<path d="M360,648H395"/>
<path d="M360,689.7H393"/>
<path d="M871,569.7H903.6"/>
<path d="M876.7,643H907.5"/>
<path d="M877.5,684.5H909.4"/>
<path d="M750,876H810"/>
<path d="M389,987H439"/>
<path d="M398.8,1053H444.6"/>
<path d="M751.7,1090.5H834.5"/>
<path d="M752,1161.3H790V1407.7H752"/>
<path d="M790,1283H838"/>
<path d="M374,1220V1276"/>
<path d="M237,1437V1482.5"/>
<path d="M169,1458V1504"/>
<path d="M530,1398.8V1421"/>
</g>

<!-- labels -->
<g>
<text class="t" transform="translate(617,60) scale(.72 1)">1</text>
<text class="t" transform="translate(816,239) scale(.72 1)">2</text>
<text class="t" transform="translate(717,635) scale(.72 1)">3</text>
<text class="t" transform="translate(356.4,604) scale(.72 1)">4</text>
<text class="t" transform="translate(354.4,659) scale(.72 1)">5</text>
<text class="t" transform="translate(354.4,700) scale(.72 1)">6</text>
<text class="t" transform="translate(909,581) scale(.72 1)">7</text>
<text class="t" transform="translate(912,652) scale(.72 1)">8</text>
<text class="t" transform="translate(915,694) scale(.72 1)">9</text>
<text class="t" transform="translate(381,998) scale(.72 1)">10</text>
<text class="t" transform="translate(850,1098) scale(.72 1)">11</text>
<text class="t" transform="translate(855,1293) scale(.72 1)">12</text>
<text class="t" transform="translate(371,1210) scale(.72 1)">13</text>
<text class="t" transform="translate(235,1432) scale(.72 1)">14</text>
<text class="t" transform="translate(169,1457) scale(.72 1)">15</text>
<text class="t" transform="translate(390,1063) scale(.72 1)">16</text>
<text class="t" transform="translate(675,355) scale(.72 1)">17</text>
<text class="t" transform="translate(530,1447) scale(.72 1)">18</text>
<text class="t" transform="translate(479,269) scale(.72 1)">19</text>
<text class="t" transform="translate(761,718) scale(.72 1)">20</text>
<text class="t" transform="translate(845,888) scale(.72 1)">Frame</text>
</g>
</svg>
</body>
</html>
